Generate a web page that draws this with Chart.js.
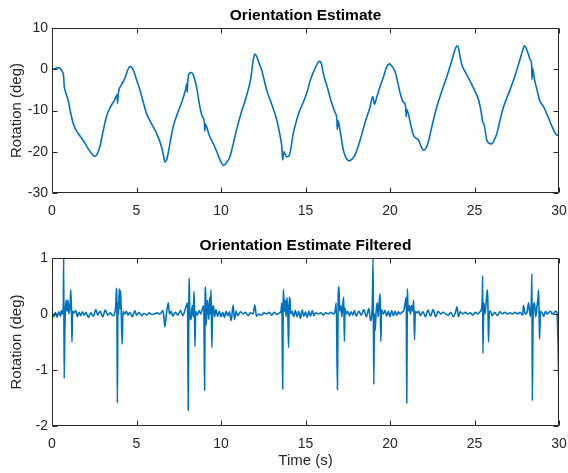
<!DOCTYPE html>
<html>
<head>
<meta charset="utf-8">
<script src="https://cdn.jsdelivr.net/npm/chart.js@4.4.1/dist/chart.umd.min.js"></script>
<style>
  html, body { margin: 0; padding: 0; background: #fff; }
  #wrap { position: relative; width: 568px; height: 473px; }
  canvas { position: absolute; left: 0; }
  #c1 { top: 0; }
  #c2 { top: 230px; }
</style>
</head>
<body>
<div id="wrap">
  <canvas id="c1" width="568" height="230"></canvas>
  <canvas id="c2" width="568" height="243"></canvas>
</div>
<script>
// ---- Data ----
const topTitle = "Orientation Estimate";
const bottomTitle = "Orientation Estimate Filtered";
const yLabel = "Rotation (deg)";
const xLabel = "Time (s)";

const xTicks = [0, 5, 10, 15, 20, 25, 30];
const topYTicks = [-30, -20, -10, 0, 10];
const botYTicks = [-2, -1, 0, 1];

// Orientation estimate: time (s)
const tTop = [0,0.2,0.36,0.5,0.6,0.69,0.72,0.78,0.95,1.09,1.25,1.4,1.54,1.84,2.13,2.35,2.53,2.7,2.83,3.0,
  3.22,3.45,3.71,3.85,3.88,3.92,4.11,4.31,4.5,4.64,4.8,5.0,5.2,5.4,5.59,5.9,6.18,6.48,6.6,6.68,
  6.78,6.87,7.0,7.17,7.4,7.66,7.9,7.98,8.0,8.03,8.12,8.25,8.35,8.55,8.75,8.9,9.02,9.04,9.07,9.3,
  9.54,9.8,10.0,10.17,10.35,10.53,10.7,10.92,11.2,11.5,11.75,11.92,12.0,12.1,12.25,12.4,12.7,13.0,13.3,13.49,
  13.6,13.65,13.72,13.88,14.04,14.28,14.5,14.67,14.85,15.07,15.3,15.6,15.82,15.95,16.05,16.3,16.55,16.75,16.86,16.88,
  16.93,17.05,17.24,17.4,17.58,17.75,17.9,18.05,18.23,18.45,18.63,18.8,18.98,19.08,19.2,19.41,19.6,19.8,19.97,20.1,
  20.3,20.45,20.6,20.8,20.93,20.95,21.0,21.2,21.39,21.5,21.68,21.85,21.98,22.1,22.24,22.5,22.77,23.05,23.36,23.65,
  23.85,23.96,24.05,24.15,24.25,24.5,24.85,25.05,25.24,25.44,25.47,25.56,25.73,25.85,26.03,26.15,26.33,26.5,26.72,27.1,
  27.4,27.7,27.9,27.96,28.05,28.2,28.3,28.38,28.4,28.43,28.55,28.7,28.85,29.09,29.35,29.59,29.75,29.88,29.97,30];
// Orientation estimate: rotation (deg)
const vTop = [0,0.2,0.4,0.1,-0.5,-1.8,-4,-5.2,-7.4,-10.3,-13.1,-14.6,-15.5,-17.2,-19.2,-20.5,-21.1,-20.3,-18.8,-15.5,
  -11.5,-9.2,-7.4,-6.2,-8.3,-6.0,-3.8,-2.2,0,0.7,-0.1,-2.5,-5,-8,-10.7,-13.3,-15.5,-18.8,-21,-22.5,
  -22,-20.4,-17.5,-13.9,-11,-8.2,-5,-3.5,-5.6,-3.2,-1,-0.8,-1.3,-4.2,-9.1,-11.5,-13,-15,-13.3,-16,
  -18,-20.5,-22.5,-23.3,-22.5,-21.2,-18.5,-14.7,-10.5,-6.6,-2.5,2.5,3.7,3.2,1.5,-0.1,-5,-8.5,-12.3,-16,
  -18.8,-22,-20,-21.2,-20.9,-15.5,-12,-9.9,-8.2,-5.8,-2.5,0.5,1.9,1.2,-1,-4.5,-8.2,-10.5,-12.3,-14.6,
  -12.5,-15,-19.6,-21.5,-22.2,-21.8,-21,-19.5,-17.2,-14,-11.5,-9.5,-6.6,-8.5,-7,-4.2,-2,0.5,1.3,0.8,
  -0.6,-3,-5.8,-8,-9.1,-11.5,-9.8,-13,-16,-16.6,-17.1,-18.8,-19.6,-19.3,-18,-13.5,-9.1,-5.5,-1.8,2,
  4.8,5.7,5.2,3,1.1,-1,-3.8,-5.5,-7.4,-11.5,-12.6,-13.3,-17.2,-17.9,-18.1,-17.3,-15.5,-12.5,-9.1,-5,
  -1.5,2.5,5.2,5.7,5.2,3.5,2.3,1.2,-2.5,0.3,-2.5,-5,-7.5,-9.1,-11.5,-13.9,-15.3,-16,-15.8,-13.8];

// Filtered estimate: time (s)
const tBot = [0,0.1,0.2,0.3,0.4,0.5,0.55,0.6,0.67,0.69,0.72,0.76,0.8,0.85,0.9,0.95,1.0,1.08,1.11,1.15,
  1.18,1.22,1.3,1.4,1.5,1.6,1.7,1.8,1.9,2.0,2.15,2.3,2.45,2.6,2.7,2.85,3.0,3.15,3.3,3.45,
  3.6,3.7,3.78,3.81,3.84,3.87,3.9,3.94,3.98,4.02,4.06,4.1,4.15,4.2,4.3,4.4,4.5,4.6,4.75,4.9,
  5.0,5.15,5.3,5.45,5.6,5.75,5.9,6.05,6.2,6.4,6.55,6.62,6.68,6.75,6.88,6.95,7.05,7.15,7.3,7.45,
  7.6,7.75,7.85,7.95,8.02,8.06,8.1,8.12,8.15,8.22,8.3,8.36,8.4,8.43,8.46,8.5,8.6,8.7,8.8,8.9,
  8.98,9.03,9.06,9.09,9.12,9.2,9.28,9.33,9.38,9.4,9.43,9.46,9.5,9.55,9.62,9.7,9.8,9.9,10.0,10.1,
  10.2,10.3,10.4,10.5,10.6,10.72,10.8,10.9,11.0,11.15,11.3,11.45,11.6,11.75,11.9,12.0,12.1,12.25,12.4,12.55,
  12.7,12.85,13.0,13.15,13.3,13.45,13.55,13.6,13.65,13.68,13.7,13.74,13.8,13.85,13.9,13.95,14.0,14.03,14.08,14.12,
  14.2,14.3,14.4,14.5,14.6,14.7,14.8,14.9,15.0,15.1,15.2,15.3,15.4,15.5,15.6,15.75,15.9,16.05,16.2,16.35,
  16.5,16.65,16.75,16.82,16.89,16.93,16.98,17.02,17.1,17.15,17.22,17.26,17.3,17.34,17.4,17.5,17.6,17.7,17.8,17.9,
  18.0,18.15,18.3,18.45,18.6,18.75,18.85,18.95,19.0,19.04,19.08,19.12,19.18,19.25,19.3,19.36,19.41,19.43,19.46,19.5,
  19.6,19.7,19.8,19.9,20.0,20.1,20.2,20.3,20.4,20.5,20.6,20.7,20.8,20.9,20.96,20.99,21.02,21.03,21.07,21.15,
  21.2,21.28,21.35,21.4,21.45,21.5,21.6,21.7,21.8,21.95,22.1,22.25,22.4,22.55,22.7,22.85,23.0,23.15,23.3,23.45,
  23.6,23.75,23.9,23.96,24.05,24.15,24.3,24.45,24.6,24.75,24.9,25.05,25.2,25.35,25.42,25.46,25.48,25.5,25.55,25.62,
  25.7,25.77,25.8,25.83,25.88,25.95,26.05,26.2,26.35,26.5,26.65,26.8,26.95,27.1,27.25,27.4,27.55,27.7,27.85,27.9,
  28.0,28.1,28.2,28.3,28.36,28.4,28.42,28.47,28.55,28.62,28.7,28.76,28.79,28.82,28.85,28.9,29.0,29.1,29.2,29.3,
  29.4,29.5,29.6,29.7,29.8,29.88,29.94,30.0];
// Filtered estimate: rotation (deg)
const vBot = [0.02,-0.05,0.03,-0.06,0.04,-0.04,0.06,0.0,0.15,0.99,-1.15,-0.3,0.1,0.25,0.05,0.25,0.0,0.2,0.43,0.1,
  -0.5,0.05,0.02,0.06,-0.05,0.03,-0.03,0.04,-0.02,0.03,-0.06,0.02,-0.04,0.08,-0.02,0.05,-0.05,0.07,-0.02,0.02,
  -0.03,0.0,0.2,0.46,0.1,-1.59,0.2,0.0,0.45,0.1,0.42,0.0,-0.54,0.05,0.0,0.05,-0.02,0.03,-0.05,0.06,
  -0.02,0.03,-0.03,0.01,-0.02,0.02,-0.01,0.0,0.02,0.0,0.06,-0.05,-0.23,-0.05,0.2,0.0,0.05,-0.04,0.03,-0.02,
  0.06,-0.03,0.05,0.15,0.2,-1.72,0.3,0.64,0.1,-0.1,0.15,-0.05,0.4,0.1,-0.58,0.05,-0.02,0.06,0.0,0.1,
  0.15,-1.36,0.3,0.48,-0.2,0.25,-0.1,0.3,0.0,0.43,0.1,-0.6,0.05,0.15,-0.05,0.08,-0.04,0.05,-0.05,0.03,
  -0.06,0.05,-0.03,0.04,-0.12,0.16,-0.1,0.05,-0.03,0.04,0.0,0.03,-0.03,0.02,0.0,0.16,-0.04,0.0,-0.02,0.02,
  0.0,0.03,-0.02,0.03,-0.01,0.02,0.05,0.2,-1.34,0.2,0.44,0.05,0.25,-0.05,0.3,0.05,-0.6,0.1,0.3,0.0,
  0.05,-0.05,0.06,-0.05,0.05,-0.08,0.07,-0.04,0.04,-0.06,0.05,-0.04,0.06,-0.03,0.02,0.0,0.02,-0.02,0.02,0.0,
  0.03,0.0,0.05,0.2,-1.35,0.2,0.49,0.05,0.15,-0.05,0.2,0.3,-0.49,0.1,0.0,0.05,-0.03,0.04,-0.02,0.06,
  -0.04,0.05,-0.02,0.08,-0.05,0.1,-0.12,0.15,0.99,-1.26,0.0,-0.3,0.05,0.2,-0.05,0.2,0.36,0.05,-0.49,0.08,
  0.0,0.06,-0.04,0.05,-0.05,0.06,-0.03,0.05,-0.02,0.04,0.0,0.03,0.05,0.2,0.3,-1.59,0.1,0.45,0.05,0.15,
  0.0,0.15,0.05,0.25,-0.46,0.05,0.02,0.05,-0.03,0.04,-0.05,0.07,-0.04,0.08,-0.05,0.05,0.0,0.03,0.0,-0.02,
  0.03,-0.05,0.06,0.13,-0.05,0.04,0.0,0.03,0.0,0.02,-0.02,0.03,0.0,0.05,0.1,0.3,0.68,-0.7,0.2,0.0,
  0.25,0.43,0.05,-0.5,0.05,0.05,-0.03,0.03,-0.03,0.04,0.0,0.03,0.0,0.02,0.0,0.03,0.0,0.03,-0.02,0.15,
  0.0,0.02,0.2,-0.05,0.2,0.72,-1.55,0.0,0.2,-0.05,0.15,0.3,0.43,0.05,-0.45,0.05,0.02,-0.04,0.05,0.0,
  0.03,0.05,0.0,0.02,0.05,0.02,-0.5,-1.38];

// ---- Rendering ----
const FONT = "'Liberation Sans', Arial, Helvetica, sans-serif";
const AX = '#262626';
const LINE = '#0072BD';

const boxPlugin = {
  id: 'matlabBox',
  afterDraw(chart) {
    const ctx = chart.ctx, a = chart.chartArea;
    const xs = chart.scales.x, ys = chart.scales.y;
    const L = Math.round(a.left) + 0.5, R = Math.round(a.right) - 0.5;
    const T = Math.round(a.top) + 0.5, B = Math.round(a.bottom) - 0.5;
    ctx.save();
    ctx.strokeStyle = AX;
    ctx.lineWidth = 1;
    ctx.beginPath();
    ctx.rect(L, T, R - L, B - T);
    const tl = 5;
    xs.ticks.forEach(t => {
      const p = Math.round(xs.getPixelForValue(t.value)) + 0.5;
      ctx.moveTo(p, B); ctx.lineTo(p, B - tl);
      ctx.moveTo(p, T); ctx.lineTo(p, T + tl);
    });
    ys.ticks.forEach(t => {
      const p = Math.round(ys.getPixelForValue(t.value)) + 0.5;
      ctx.moveTo(L, p); ctx.lineTo(L + tl, p);
      ctx.moveTo(R, p); ctx.lineTo(R - tl, p);
    });
    ctx.stroke();
    // title
    const title = chart.options.plugins.matlabBox.title;
    ctx.fillStyle = '#000';
    ctx.font = 'bold 15.5px ' + FONT;
    ctx.textAlign = 'center';
    ctx.textBaseline = 'middle';
    ctx.fillText(title, (a.left + a.right) / 2, a.top - 12);
    ctx.restore();
  }
};

function makeChart(id, tArr, vArr, yMin, yMax, yTickList, title, showXTitle, xAxisHeight) {
  const pts = tArr.map((t, i) => ({ x: t, y: vArr[i] }));
  return new Chart(document.getElementById(id), {
    type: 'line',
    data: { datasets: [{ data: pts, borderColor: LINE, borderWidth: 1.6, pointRadius: 0,
      cubicInterpolationMode: 'monotone', fill: false }] },
    options: {
      responsive: false,
      animation: false,
      devicePixelRatio: 1,
      layout: { padding: { top: 28, right: 9, left: 0, bottom: 0 } },
      plugins: {
        legend: { display: false },
        tooltip: { enabled: false },
        title: { display: false },
        matlabBox: { title: title }
      },
      scales: {
        x: {
          type: 'linear', min: 0, max: 30,
          afterBuildTicks: s => { s.ticks = xTicks.map(v => ({ value: v })); },
          grid: { display: false, drawTicks: false, tickLength: 0 },
          border: { display: false },
          ticks: { color: AX, font: { family: FONT, size: 14 }, padding: 10, maxRotation: 0 },
          title: { display: showXTitle, text: xLabel, color: AX, font: { family: FONT, size: 15 }, padding: { top: 0, bottom: 3 } },
          afterFit: s => { s.height = xAxisHeight; s.paddingLeft = 0; s.paddingRight = 0; }
        },
        y: {
          type: 'linear', min: yMin, max: yMax,
          afterBuildTicks: s => { s.ticks = yTickList.map(v => ({ value: v })); },
          grid: { display: false, drawTicks: false, tickLength: 0 },
          border: { display: false },
          ticks: { color: AX, font: { family: FONT, size: 14 }, padding: 4 },
          title: { display: true, text: yLabel, color: AX, font: { family: FONT, size: 15 }, padding: { top: 8, bottom: 0 } },
          afterFit: s => { s.width = 52; s.paddingTop = 0; s.paddingBottom = 0; }
        }
      }
    },
    plugins: [boxPlugin]
  });
}

makeChart('c1', tTop, vTop, -30, 10, topYTicks, topTitle, false, 37);
makeChart('c2', tBot, vBot, -2, 1, botYTicks, bottomTitle, true, 47);
</script>
</body>
</html>
